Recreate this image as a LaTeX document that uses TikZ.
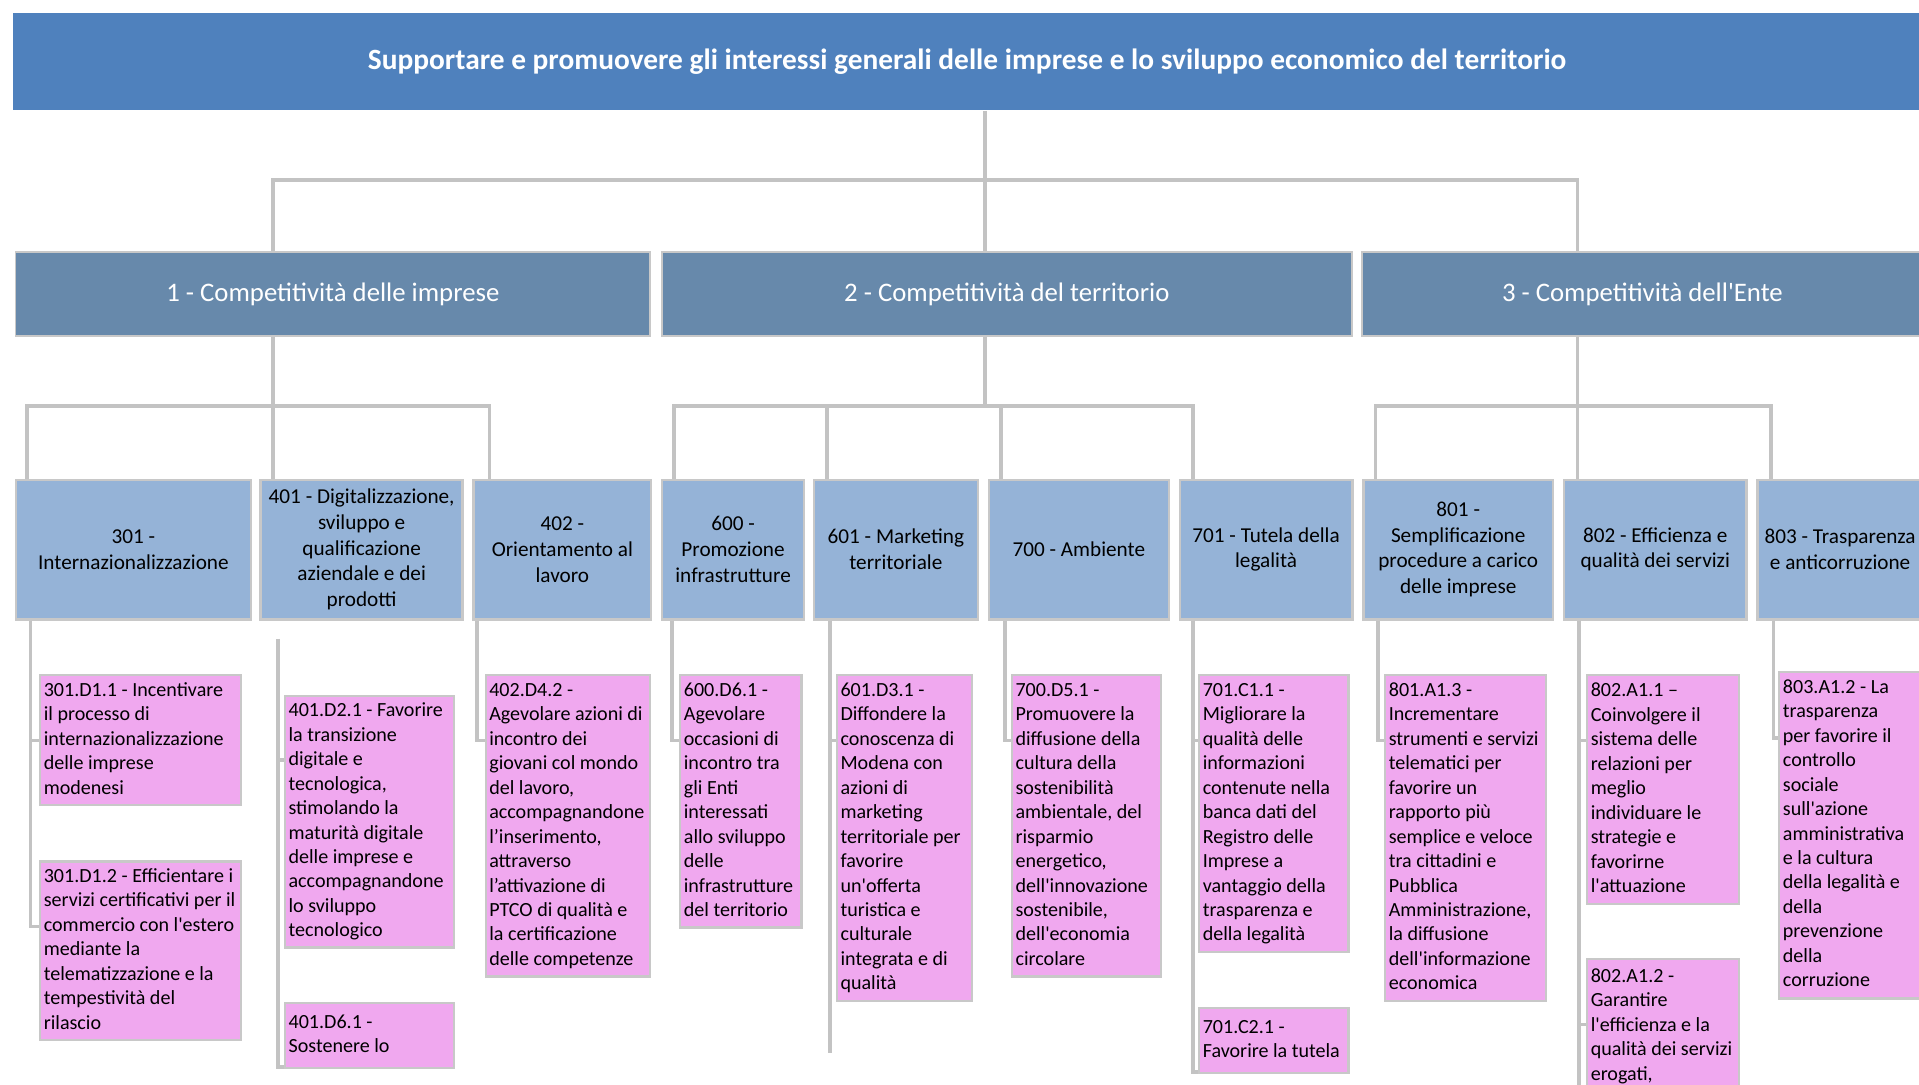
\documentclass[tikz,border=0pt]{standalone}
\usepackage{fontspec}
\setmainfont{Carlito}[Ligatures=TeXOff]
\usetikzlibrary{calc}
\definecolor{topblue}{HTML}{4F81BD}
\definecolor{midblue}{HTML}{6789AB}
\definecolor{lowblue}{HTML}{95B3D7}
\definecolor{pinkbox}{HTML}{F0A8EF}
\definecolor{connc}{HTML}{C3C3C3}
\definecolor{edgec}{HTML}{C8C8C8}
\newcommand{\objtext}[2]{\makebox[#1][l]{\begin{tabular}{@{}l@{}}#2\end{tabular}}}
\begin{document}
\begin{tikzpicture}[x=0.75pt,y=-0.75pt,
  conn/.style={draw=connc,line width=2.3pt},
  topbox/.style={fill=topblue,anchor=north west,inner sep=0pt,text=white,font=\fontsize{18}{21}\selectfont\bfseries},
  areabox/.style={fill=midblue,draw=edgec,line width=1pt,anchor=north west,inner sep=0pt,minimum height=51.75pt,text=white,font=\fontsize{16.4}{19}\selectfont},
  progbox/.style={fill=lowblue,draw=edgec,line width=1.5pt,anchor=north west,inner xsep=2pt,inner ysep=0pt,minimum height=85.5pt,align=flush center,font=\fontsize{13}{15.75}\selectfont},
  objbox/.style={fill=pinkbox,draw=edgec,line width=1.3pt,anchor=north west,inner xsep=2.2pt,inner ysep=2pt,font=\fontsize{12.3}{15}\selectfont}
]
\useasboundingbox (0,0) rectangle (1568,886);
\clip (0,0) rectangle (1568,886);
\fill[white] (0,0) rectangle (1568,886);

% top
\node[topbox,minimum width=1170pt,minimum height=60pt] (top) at (10,10) {Supportare e promuovere gli interessi generali delle imprese e lo sviluppo economico del territorio};

% level 2
\node[areabox,minimum width=389pt] (c1) at (12,205) {1 - Competitività delle imprese};
\node[areabox,minimum width=423pt] (c2) at (540,205) {2 - Competitività del territorio};
\node[areabox,minimum width=344pt] (c3) at (1112,205) {3 - Competitività dell'Ente};

% top connectors
\coordinate (k0) at (805,147);
\coordinate (k1) at (223,147);
\coordinate (k3) at (1289,147);
\draw[conn] (top.south -| k0) -- (c2.north -| k0);
\draw[conn] (c1.north -| k1) -- (k1) -- (k3) -- (c3.north -| k3);

% level 3
\node[progbox,text width=140pt,minimum width=144pt] (l301) at (12,391) {301 -\\Internazionalizzazione};
\node[progbox,text width=119.75pt,minimum width=123.75pt] (l401) at (212,391) {401 - Digitalizzazione,\\sviluppo e\\qualificazione\\aziendale e dei\\prodotti};
\node[progbox,text width=104.75pt,minimum width=108.75pt] (l402) at (386,391) {402 -\\Orientamento al\\lavoro};
\node[progbox,text width=83pt,minimum width=87pt] (l600) at (540,391) {600 -\\Promozione\\infrastrutture};
\node[progbox,text width=96.5pt,minimum width=100.5pt] (l601) at (664,391) {601 - Marketing\\territoriale};
\node[progbox,text width=106.25pt,minimum width=110.25pt] (l700) at (807,391) {700 - Ambiente};
\node[progbox,text width=101.75pt,minimum width=105.75pt] (l701) at (963,391) {701 - Tutela della\\legalità};
\node[progbox,text width=112.25pt,minimum width=116.25pt] (l801) at (1113,391) {801 -\\Semplificazione\\procedure a carico\\delle imprese};
\node[progbox,text width=107.75pt,minimum width=111.75pt] (l802) at (1277,391) {802 - Efficienza e\\qualità dei servizi};
\node[progbox,text width=97.25pt,minimum width=101.25pt] (l803) at (1435,391) {803 - Trasparenza\\e anticorruzione};

% level 2 -> 3 connectors
\coordinate (m1) at (223,332);
\coordinate (d301) at (22,332);
\coordinate (d402) at (400,332);
\draw[conn] (c1.south -| m1) -- (m1);
\draw[conn] (l301.north -| d301) -- (d301) -- (d402) -- (l402.north -| d402);
\draw[conn] (l401.north -| m1) -- (m1);

\coordinate (m2) at (805,332);
\coordinate (d600) at (551,332);
\coordinate (d601) at (676,332);
\coordinate (d700) at (818,332);
\coordinate (d701) at (975,332);
\draw[conn] (c2.south -| m2) -- (m2);
\draw[conn] (l600.north -| d600) -- (d600) -- (d701) -- (l701.north -| d701);
\draw[conn] (l601.north -| d601) -- (d601);
\draw[conn] (l700.north -| d700) -- (d700);

\coordinate (m3) at (1289,332);
\coordinate (d801) at (1124,332);
\coordinate (d803) at (1447,332);
\draw[conn] (c3.south -| m3) -- (m3);
\draw[conn] (l801.north -| d801) -- (d801) -- (d803) -- (l803.north -| d803);
\draw[conn] (l802.north -| m3) -- (m3);

% level 4 boxes
\node[objbox,minimum width=123pt,minimum height=79.5pt] (p3011) at (32,551) {\objtext{118.6pt}{301.D1.1 - Incentivare\\il processo di\\internazionalizzazione\\delle imprese\\modenesi}};
\node[objbox,minimum width=123pt,minimum height=109.5pt] (p3012) at (32,703) {\objtext{118.6pt}{301.D1.2 - Efficientare i\\servizi certificativi per il\\commercio con l'estero\\mediante la\\telematizzazione e la\\tempestività del\\rilascio}};
\node[objbox,minimum width=103.5pt,minimum height=153.75pt] (p4012) at (232,568) {\objtext{99.1pt}{401.D2.1 - Favorire\\la transizione\\digitale e\\tecnologica,\\stimolando la\\maturità digitale\\delle imprese e\\accompagnandone\\lo sviluppo\\tecnologico}};
\node[objbox,minimum width=103.5pt,minimum height=39.75pt] (p4016) at (232,819) {\objtext{99.1pt}{401.D6.1 -\\Sostenere lo}};
\node[objbox,minimum width=100.5pt,minimum height=184.5pt] (p4024) at (396,551) {\objtext{96.1pt}{402.D4.2 -\\Agevolare azioni di\\incontro dei\\giovani col mondo\\del lavoro,\\accompagnandone\\l’inserimento,\\attraverso\\l’attivazione di\\PTCO di qualità e\\la certificazione\\delle competenze}};
\node[objbox,minimum width=74.25pt,minimum height=154.5pt] (p6006) at (555,551) {\objtext{69.85pt}{600.D6.1 -\\Agevolare\\occasioni di\\incontro tra\\gli Enti\\interessati\\allo sviluppo\\delle\\infrastrutture\\del territorio}};
\node[objbox,minimum width=82.5pt,minimum height=199.5pt] (p6013) at (683,551) {\objtext{78.1pt}{601.D3.1 -\\Diffondere la\\conoscenza di\\Modena con\\azioni di\\marketing\\territoriale per\\favorire\\un'offerta\\turistica e\\culturale\\integrata e di\\qualità}};
\node[objbox,minimum width=91.5pt,minimum height=184.5pt] (p7005) at (826,551) {\objtext{87.1pt}{700.D5.1 -\\Promuovere la\\diffusione della\\cultura della\\sostenibilità\\ambientale, del\\risparmio\\energetico,\\dell'innovazione\\sostenibile,\\dell'economia\\circolare}};
\node[objbox,minimum width=91.5pt,minimum height=169.5pt] (p7011) at (979,551) {\objtext{87.1pt}{701.C1.1 -\\Migliorare la\\qualità delle\\informazioni\\contenute nella\\banca dati del\\Registro delle\\Imprese a\\vantaggio della\\trasparenza e\\della legalità}};
\node[objbox,minimum width=91.5pt,minimum height=39.75pt] (p7012) at (979,823) {\objtext{87.1pt}{701.C2.1 -\\Favorire la tutela}};
\node[objbox,minimum width=98.25pt,minimum height=199.5pt] (p8013) at (1131,551) {\objtext{93.85pt}{801.A1.3 -\\Incrementare\\strumenti e servizi\\telematici per\\favorire un\\rapporto più\\semplice e veloce\\tra cittadini e\\Pubblica\\Amministrazione,\\la diffusione\\dell'informazione\\economica}};
\node[objbox,minimum width=93pt,minimum height=140.25pt] (p8021) at (1296,551) {\objtext{88.6pt}{802.A1.1 –\\Coinvolgere il\\sistema delle\\relazioni per\\meglio\\individuare le\\strategie e\\favorirne\\l'attuazione}};
\node[objbox,minimum width=93pt,minimum height=82pt] (p8022) at (1296,783) {\objtext{88.6pt}{802.A1.2 -\\Garantire\\l'efficienza e la\\qualità dei servizi\\erogati,}};
\node[objbox,minimum width=86.25pt,minimum height=200.25pt] (p8031) at (1453,548) {\objtext{81.85pt}{803.A1.2 - La\\trasparenza\\per favorire il\\controllo\\sociale\\sull'azione\\amministrativa\\e la cultura\\della legalità e\\della\\prevenzione\\della\\corruzione}};

% level 3 -> 4 connectors
\coordinate (x301) at (25,0);
\coordinate (s401) at (227,522);
\coordinate (x402) at (390,0);
\coordinate (x600) at (549,0);
\coordinate (x601) at (678,0);
\coordinate (e601) at (678,860);
\coordinate (x700) at (821,0);
\coordinate (x701) at (975,0);
\coordinate (x801) at (1126,0);
\coordinate (x802) at (1290,0);
\coordinate (e802) at (1290,895);
\coordinate (x803) at (1449,0);

\draw[conn] (l301.south -| x301) |- ($(p3011.north west)+(0,54)$);
\draw[conn] (l301.south -| x301) |- ($(p3012.north west)+(0,54)$);
\draw[conn] (s401) |- ($(p4012.north west)+(0,53)$);
\draw[conn] (s401) |- ($(p4016.north west)+(0,53)$);
\draw[conn] (l402.south -| x402) |- ($(p4024.north west)+(0,54)$);
\draw[conn] (l600.south -| x600) |- ($(p6006.north west)+(0,54)$);
\draw[conn] (l601.south -| x601) |- ($(p6013.north west)+(0,54)$);
\draw[conn] (l601.south -| x601) -- (e601);
\draw[conn] (l700.south -| x700) |- ($(p7005.north west)+(0,54)$);
\draw[conn] (l701.south -| x701) |- ($(p7011.north west)+(0,54)$);
\draw[conn] (l701.south -| x701) |- ($(p7012.north west)+(0,53)$);
\draw[conn] (l801.south -| x801) |- ($(p8013.north west)+(0,54)$);
\draw[conn] (l802.south -| x802) |- ($(p8021.north west)+(0,54)$);
\draw[conn] (l802.south -| x802) |- ($(p8022.north west)+(0,54)$);
\draw[conn] (l802.south -| x802) -- (e802);
\draw[conn] (l803.south -| x803) |- ($(p8031.north west)+(0,55)$);
\end{tikzpicture}
\end{document}
